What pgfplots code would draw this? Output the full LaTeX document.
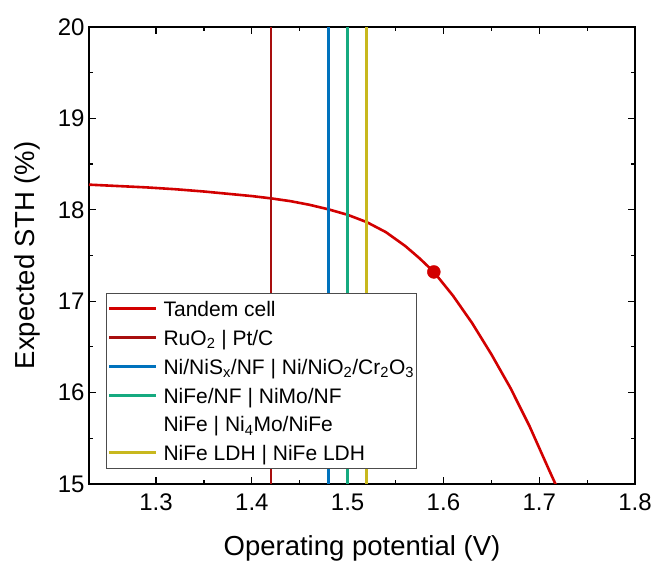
\documentclass[border=0pt]{standalone}
\usepackage{fontspec}
\setmainfont{Liberation Sans}
\usepackage{pgfplots}
\pgfplotsset{compat=1.18}
\definecolor{cTandem}{RGB}{210,0,0}
\definecolor{cRu}{RGB}{168,14,14}
\definecolor{cBlue}{RGB}{0,114,189}
\definecolor{cGreen}{RGB}{22,170,128}
\definecolor{cYellow}{RGB}{200,184,30}
\begin{document}
\begin{tikzpicture}
\begin{axis}[
  scale only axis, width=546pt, height=457pt,
  xmin=1.23, xmax=1.8, ymin=15, ymax=20,
  xtick={1.3,1.4,1.5,1.6,1.7,1.8},
  ytick={15,16,17,18,19,20},
  minor x tick num=1, minor y tick num=1,
  tick align=inside, major tick length=7pt, minor tick length=4pt,
  axis line style={line width=1.4pt, black},
  every tick/.style={line width=1.2pt, black},
  /pgf/number format/assume math mode=true,
  ticklabel style={font=\fontsize{24}{28}\selectfont},
  xticklabel style={yshift=-6pt, /pgf/number format/.cd, fixed, fixed zerofill, precision=1},
  yticklabel style={xshift=-1pt, /pgf/number format/.cd, fixed, precision=0},
  xlabel={Operating potential (V)},
  ylabel={Expected STH (\%)},
  label style={font=\fontsize{27.5}{32}\selectfont},
  xlabel style={at={(axis description cs:0.5,-0.142)}, anchor=center},
  ylabel style={at={(axis description cs:-0.112,0.5)}, anchor=center},
  legend style={at={(axis description cs:0.0311,0.0328)}, anchor=south west,
    draw=black!70, line width=0.8pt, fill=white,
    font=\fontsize{21}{25}\selectfont,
    inner sep=1.2pt, row sep=0pt, column sep=5pt,
    nodes={inner xsep=1pt, inner ysep=4.2pt, text height=18pt, text depth=2.4pt}},
  legend cell align=left,
  legend image code/.code={\draw[#1, line width=3pt] (0pt,0pt) -- (47pt,0pt);},
]
\addplot[color=cTandem, line width=2.6pt, no markers] coordinates {
(1.23,18.275) (1.26,18.26) (1.29,18.245) (1.32,18.225) (1.35,18.20)
(1.38,18.17) (1.40,18.15) (1.42,18.125) (1.44,18.095) (1.46,18.055)
(1.48,18.005) (1.50,17.945) (1.52,17.865) (1.54,17.755) (1.56,17.605)
(1.575,17.47) (1.59,17.32) (1.61,17.06) (1.63,16.76) (1.65,16.42)
(1.67,16.05) (1.69,15.63) (1.71,15.16) (1.72,14.93)
};
\addlegendentry{Tandem cell}
\addplot[color=cRu, line width=2.8pt, no markers] coordinates {(1.42,15) (1.42,20)};
\addlegendentry{RuO\textsubscript{2} | Pt/C}
\addplot[color=cBlue, line width=2.8pt, no markers] coordinates {(1.48,15) (1.48,20)};
\addlegendentry{Ni/NiS\textsubscript{x}/NF | Ni/NiO\textsubscript{2}/Cr\textsubscript{2}O\textsubscript{3}\hspace{6pt}}
\addplot[color=cGreen, line width=2.8pt, no markers] coordinates {(1.50,15) (1.50,20)};
\addlegendentry{NiFe/NF | NiMo/NF}
\addlegendimage{empty legend}
\addlegendentry{NiFe | Ni\textsubscript{4}Mo/NiFe}
\addplot[color=cYellow, line width=2.8pt, no markers] coordinates {(1.52,15) (1.52,20)};
\addlegendentry{NiFe LDH | NiFe LDH}
\addplot[only marks, mark=*, mark size=6.5pt, color=cTandem, forget plot] coordinates {(1.59,17.32)};
\end{axis}
\path (current axis.south west) ++(-89pt,-78pt) rectangle ([xshift=20pt,yshift=27pt]current axis.north east);
\end{tikzpicture}
\end{document}
